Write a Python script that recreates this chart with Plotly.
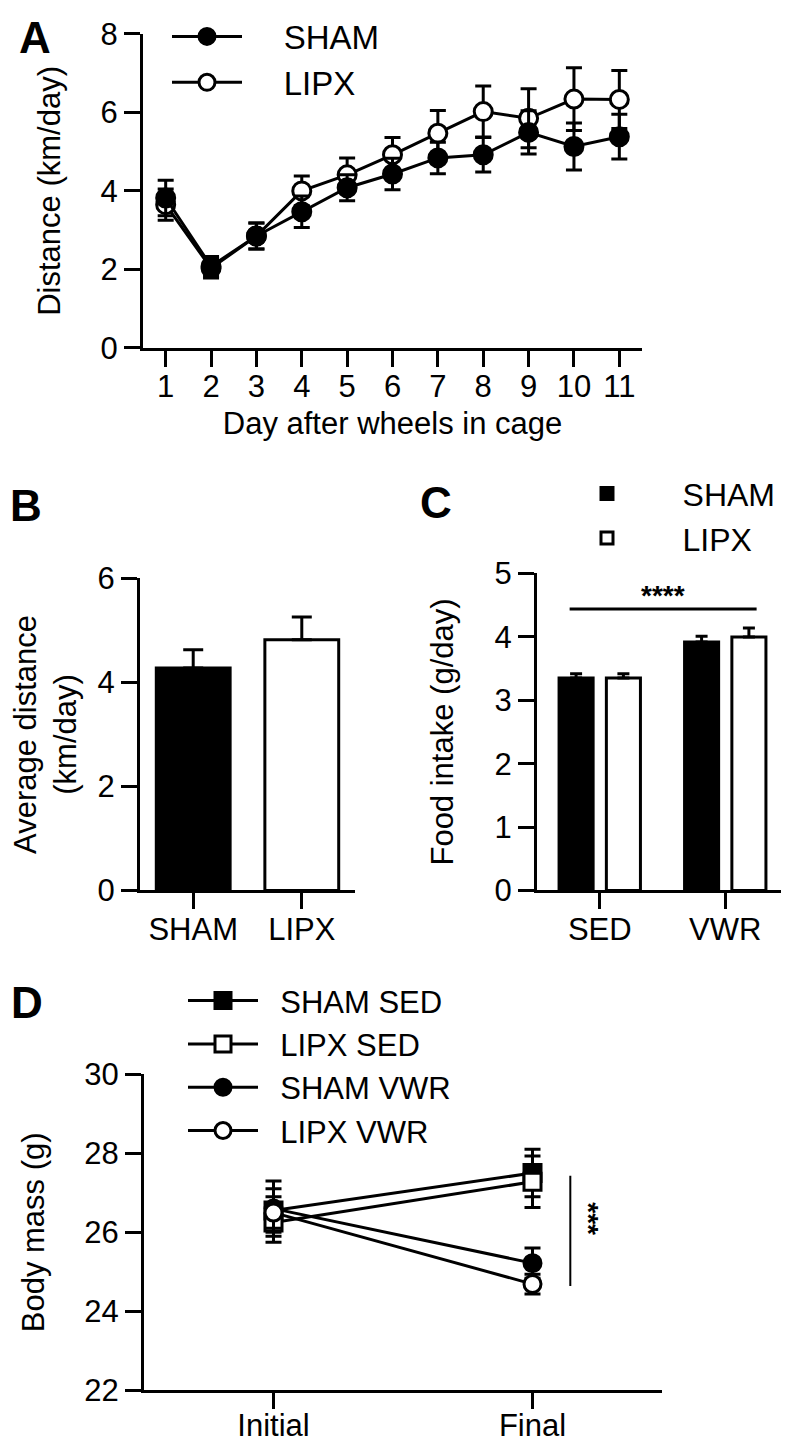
import plotly.graph_objects as go

FONT = "Liberation Sans, Arial, Helvetica, sans-serif"

# Panel A: daily wheel running distance
days = [1, 2, 3, 4, 5, 6, 7, 8, 9, 10, 11]
sham_dist = [3.82, 2.08, 2.85, 3.47, 4.08, 4.43, 4.84, 4.92, 5.49, 5.13, 5.38]
sham_dist_err = [0.45, 0.25, 0.33, 0.40, 0.33, 0.40, 0.40, 0.44, 0.55, 0.60, 0.57]
lipx_dist = [3.65, 2.03, 2.85, 4.00, 4.41, 4.92, 5.47, 6.02, 5.85, 6.34, 6.33]
lipx_dist_err = [0.40, 0.25, 0.33, 0.38, 0.43, 0.44, 0.58, 0.65, 0.75, 0.80, 0.74]

# Panel B: average distance
groups_b = ["SHAM", "LIPX"]
avg_dist = [4.28, 4.82]
avg_dist_err = [0.35, 0.44]

# Panel C: food intake
conditions = ["SED", "VWR"]
sham_food = [3.35, 3.92]
sham_food_err = [0.07, 0.09]
lipx_food = [3.35, 4.00]
lipx_food_err = [0.07, 0.14]

# Panel D: body mass
timepoints = ["Initial", "Final"]
sham_sed_mass = [26.55, 27.50]
sham_sed_err = [0.55, 0.60]
lipx_sed_mass = [26.25, 27.28]
lipx_sed_err = [0.50, 0.65]
sham_vwr_mass = [26.60, 25.22]
sham_vwr_err = [0.70, 0.38]
lipx_vwr_mass = [26.50, 24.69]
lipx_vwr_err = [0.40, 0.25]

# page is 789x1442 but the body has an 8px margin, so the figure is a bit smaller
W, H, OFF = 781, 1434, 8


def px(x):
    return (x - OFF) / W


def py(y):
    return 1 - (y - OFF) / H


def err(vals, up_only=False, width=8):
    d = dict(type="data", array=vals, color="black", thickness=3, width=width, visible=True)
    if up_only:
        d["symmetric"] = False
        d["arrayminus"] = [0] * len(vals)
    return d


def pad(name, n):
    return "\u00a0" * n + name


fig = go.Figure()

# --- A ---
fig.add_trace(go.Scatter(
    x=days, y=lipx_dist, name=pad("LIPX", 4), mode="lines+markers", legend="legend", legendrank=2,
    line=dict(color="black", width=3),
    marker=dict(symbol="circle", size=18, color="white", line=dict(color="black", width=3)),
    error_y=err(lipx_dist_err), xaxis="x", yaxis="y"))
fig.add_trace(go.Scatter(
    x=days, y=sham_dist, name=pad("SHAM", 4), mode="lines+markers", legend="legend", legendrank=1,
    line=dict(color="black", width=3),
    marker=dict(symbol="circle", size=18, color="black", line=dict(color="black", width=3)),
    error_y=err(sham_dist_err), xaxis="x", yaxis="y"))

# --- B ---
fig.add_trace(go.Bar(
    x=groups_b, y=avg_dist, width=0.68, showlegend=False,
    marker=dict(color=["black", "white"], line=dict(color="black", width=3)),
    error_y=err(avg_dist_err, up_only=True, width=10), xaxis="x2", yaxis="y2"))

# --- C ---
fig.add_trace(go.Bar(
    x=conditions, y=sham_food, name=pad("SHAM", 4), legend="legend2",
    marker=dict(color="black", line=dict(color="black", width=3)),
    error_y=err(sham_food_err, up_only=True, width=6), xaxis="x3", yaxis="y3"))
fig.add_trace(go.Bar(
    x=conditions, y=lipx_food, name=pad("LIPX", 4), legend="legend2",
    marker=dict(color="white", line=dict(color="black", width=3)),
    error_y=err(lipx_food_err, up_only=True, width=6), xaxis="x3", yaxis="y3"))

# --- D ---
d_series = [
    ("SHAM SED", sham_sed_mass, sham_sed_err, "square", "black"),
    ("LIPX SED", lipx_sed_mass, lipx_sed_err, "square", "white"),
    ("SHAM VWR", sham_vwr_mass, sham_vwr_err, "circle", "black"),
    ("LIPX VWR", lipx_vwr_mass, lipx_vwr_err, "circle", "white"),
]
for i, (name, vals, e, sym, fill) in enumerate(d_series):
    fig.add_trace(go.Scatter(
        x=timepoints, y=vals, name=pad(name, 2), mode="lines+markers", legend="legend3", legendrank=i + 1,
        line=dict(color="black", width=3),
        marker=dict(symbol=sym, size=17, color=fill, line=dict(color="black", width=3)),
        error_y=err(e), xaxis="x4", yaxis="y4"))

axis_style = dict(
    showline=True, linewidth=3, linecolor="black", ticks="outside", ticklen=16,
    tickwidth=3, tickcolor="black", showgrid=False, zeroline=False, automargin=False,
    tickfont=dict(family=FONT, size=31, color="black"),
)
xstyle = dict(axis_style, ticklabelstandoff=-7)
title_font = dict(family=FONT, size=31, color="black")
leg = dict(xanchor="left", yanchor="top", itemwidth=70, bgcolor="rgba(0,0,0,0)")

fig.update_layout(
    width=W, height=H,
    margin=dict(l=0, r=0, t=0, b=0),
    paper_bgcolor="white", plot_bgcolor="white",
    font=dict(family=FONT, size=31, color="black"),
    bargap=0.246, bargroupgap=0.28, barmode="group",
    xaxis=dict(xstyle, domain=[px(143), px(642)], range=[0.5, 11.5], tickvals=days,
               anchor="y", title=dict(text="Day after wheels in cage", font=title_font, standoff=10)),
    yaxis=dict(axis_style, domain=[py(341), py(25)], range=[0, 8], dtick=2, anchor="x",
               title=dict(text="Distance (km/day)", font=title_font, standoff=31)),
    xaxis2=dict(xstyle, domain=[px(140), px(355)], range=[-0.49, 1.49], type="category", anchor="y2"),
    yaxis2=dict(axis_style, domain=[py(887), py(573)], range=[0, 6], dtick=2, anchor="x2",
                title=dict(text="Average distance<br>(km/day)", font=title_font, standoff=50)),
    xaxis3=dict(xstyle, domain=[px(537), px(788)], range=[-0.5, 1.5], type="category", anchor="y3"),
    yaxis3=dict(axis_style, domain=[py(887), py(568)], range=[0, 5], dtick=1, anchor="x3",
                title=dict(text="Food intake (g/day)", font=title_font, standoff=32)),
    xaxis4=dict(axis_style, domain=[px(144), px(662)], range=[-0.5, 1.5], type="category", anchor="y4",
                ticklabelstandoff=-11),
    yaxis4=dict(axis_style, domain=[py(1390), py(1072)], range=[22, 30], dtick=2, anchor="x4",
                title=dict(text="Body mass (g)", font=title_font, standoff=31)),
    legend=dict(leg, x=px(167), y=1.006, font=dict(family=FONT, size=33, color="black")),
    legend2=dict(leg, x=px(567), y=py(460), font=dict(family=FONT, size=32, color="black")),
    legend3=dict(leg, x=px(183), y=py(971), font=dict(family=FONT, size=31, color="black")),
)

# significance markers
fig.add_shape(type="line", xref="x3", yref="y3", x0=-0.24, x1=1.25, y0=4.44, y1=4.44,
              line=dict(color="black", width=3))
fig.add_annotation(xref="x3", yref="y3", x=0.5, y=4.66, text="<b>****</b>", showarrow=False,
                   font=dict(family=FONT, size=28, color="black"))
fig.add_shape(type="line", xref="x4", yref="y4", x0=1.146, x1=1.146, y0=24.64, y1=27.43,
              line=dict(color="black", width=2))
fig.add_annotation(xref="x4", yref="y4", x=1.215, y=26.35, text="<b>***</b>", showarrow=False,
                   textangle=90, font=dict(family=FONT, size=28, color="black"))

# panel letters
letters = [("A", px(35), py(29), "center", "middle"), ("B", 0.0, py(500), "left", "middle"),
           ("C", px(436), py(497), "center", "middle"), ("D", px(27), py(1000), "center", "middle")]
for letter, lx, ly, xa, ya in letters:
    fig.add_annotation(xref="paper", yref="paper", x=lx, y=ly, text="<b>%s</b>" % letter,
                       showarrow=False, xanchor=xa, yanchor=ya,
                       font=dict(family=FONT, size=44, color="black"))

fig.write_html("out.html")
